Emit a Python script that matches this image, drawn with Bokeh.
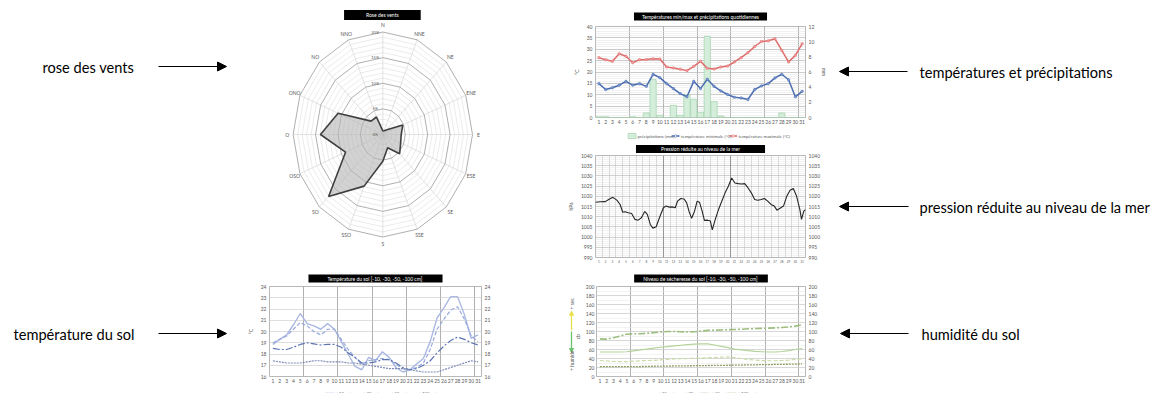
import math
from bokeh.plotting import figure
from bokeh.models import (Range1d, LinearAxis, Label, Arrow, NormalHead, FixedTicker, Spacer, Title)
from bokeh.layouts import row, column
from bokeh.embed import file_html
from bokeh.resources import INLINE
from bokeh.core.properties import value

FONT = "Lato"
GREY = "#595959"

# ---------------- data ----------------
directions = ["N", "NNE", "NE", "ENE", "E", "ESE", "SE", "SSE",
              "S", "SSO", "SO", "OSO", "O", "ONO", "NO", "NNO"]
wind_freq = [0.7, 0.8, 1.3, 4.8, 4.1, 4.3, 5.3, 2.8,
             5.2, 10.9, 17.1, 9.0, 13.9, 10.8, 3.7, 3.7]
rose_rings = [5, 10, 15, 20]
rose_ring_labels = ["5%", "10%", "15%", "20%"]

days = list(range(1, 32))
tmax = [26.3, 25.4, 24.7, 28.0, 26.9, 24.1, 25.4, 25.5, 25.8, 25.7, 22.2, 21.8, 21.2, 20.6, 22.5, 24.7,
        21.6, 21.3, 22.2, 22.6, 24.4, 26.3, 28.5, 31.2, 33.4, 33.7, 34.6, 29.5, 24.4, 27.3, 32.4]
tmin = [14.9, 12.3, 13.1, 14.2, 15.9, 14.2, 14.9, 13.7, 19.0, 17.5, 14.9, 12.7, 10.5, 9.1, 15.9, 12.7,
        16.8, 13.7, 11.7, 10.1, 8.9, 8.6, 7.9, 12.3, 13.9, 14.9, 17.4, 19.0, 16.6, 9.1, 11.5]
precip = [0.1, 0.1, 0, 0, 0, 0.1, 0, 0.6, 5.0, 0.3, 0, 1.6, 0.3, 3.0, 2.4, 0.7,
          10.7, 2.1, 0.2, 0, 0, 0, 0, 0, 0, 0, 0, 0.6, 0, 0, 0]

press_t = [0.00, 0.73, 1.45, 1.94, 2.57, 3.15, 3.63, 4.02, 4.36, 4.84, 5.33, 5.81, 6.30, 6.78, 7.26,
           7.65, 8.09, 8.47, 8.96, 9.44, 10.02, 10.41, 10.90, 11.38, 11.77, 12.11, 12.59, 13.08, 13.46,
           13.80, 14.19, 14.62, 15.01, 15.35, 15.74, 16.08, 16.56, 16.95, 17.24, 17.68, 18.16, 18.64,
           19.13, 19.61, 20.10, 20.58, 21.07, 21.55, 22.03, 22.52, 23.00, 23.49, 23.97, 24.46, 24.94,
           25.42, 25.91, 26.39, 26.78, 27.36, 27.75, 28.23, 28.72, 29.20, 29.69, 30.17, 30.41, 30.75, 31.0]
pressure = [1017.1, 1017.3, 1017.4, 1018.4, 1019.5, 1018.1, 1016.0, 1012.2, 1012.4, 1011.9, 1011.6,
            1008.7, 1008.3, 1009.5, 1012.6, 1011.1, 1006.2, 1004.4, 1005.1, 1009.5, 1014.4, 1015.2,
            1014.7, 1014.8, 1014.4, 1017.6, 1018.9, 1018.7, 1016.8, 1012.7, 1009.2, 1012.7, 1017.6,
            1017.1, 1012.7, 1008.2, 1008.3, 1007.9, 1003.5, 1008.7, 1013.5, 1017.6, 1021.7, 1024.9,
            1029.0, 1026.5, 1026.2, 1026.0, 1026.2, 1024.1, 1021.7, 1018.4, 1018.1, 1018.4, 1018.9,
            1017.6, 1016.0, 1015.2, 1013.2, 1014.4, 1015.2, 1020.0, 1023.0, 1023.8, 1020.0, 1013.5,
            1008.7, 1012.7, 1013.5]

soil_10 = [18.85, 19.3, 19.7, 20.6, 21.6, 20.7, 20.5, 20.2, 20.7, 20.2, 19.1, 18.0, 16.9, 16.6, 17.7, 17.4,
           18.2, 17.7, 16.8, 16.4, 16.6, 17.1, 17.6, 19.1, 21.2, 22.1, 23.1, 23.1, 21.5, 19.4, 19.7]
soil_30 = [19.0, 19.3, 19.6, 20.2, 20.8, 20.5, 20.0, 19.7, 20.2, 20.2, 19.3, 18.4, 17.7, 17.1, 17.4, 17.5,
           17.6, 17.5, 17.1, 16.7, 16.6, 16.8, 17.2, 18.4, 20.2, 21.1, 21.9, 22.2, 21.1, 19.6, 19.1]
soil_50 = [18.5, 18.4, 18.4, 18.6, 18.85, 19.0, 18.9, 18.8, 18.85, 18.85, 18.6, 18.1, 17.7, 17.2, 17.2, 17.3,
           17.5, 17.5, 17.2, 16.8, 16.6, 16.7, 17.0, 17.4, 18.1, 18.7, 19.2, 19.5, 19.3, 19.0, 18.8]
soil_100 = [17.4, 17.3, 17.2, 17.2, 17.2, 17.3, 17.4, 17.4, 17.3, 17.3, 17.3, 17.2, 17.2, 17.1, 17.0, 16.9,
            16.8, 16.7, 16.7, 16.7, 16.6, 16.5, 16.4, 16.4, 16.4, 16.6, 16.8, 17.0, 17.2, 17.4, 17.3]

hum_10 = [54.5, 54.5, 54.5, 54.5, 55, 57, 59, 61, 63, 65, 66.5, 68, 69.5, 71, 72, 72.5,
          72.5, 70, 67, 64, 61, 59, 57.5, 56, 55, 54.5, 54.5, 55.5, 57.5, 60, 62]
hum_30 = [35.6, 34.5, 33.5, 33, 33, 34, 35, 35.5, 36, 37, 38, 39, 39.5, 40, 40.5, 41,
          41.5, 42, 43, 43.5, 42, 40, 38, 36.5, 35.5, 35, 35, 35.5, 36.5, 38, 39]
hum_50 = [83.6, 83, 86, 90, 94, 95, 95, 96, 97.5, 99, 100, 100, 99.5, 99, 99.5, 101,
          102.5, 103, 103.5, 104, 104.5, 105, 106, 106.5, 107, 107.5, 108, 109, 110, 112, 115]
hum_100 = [21.8, 21.8, 21.8, 21.9, 22, 22, 22.2, 22.5, 22.8, 23, 23.2, 23.4, 23.6, 23.8, 24, 24.2,
           24.4, 24.6, 24.8, 25, 25.2, 25.5, 25.8, 26, 26.3, 26.5, 26.8, 27, 27.3, 27.6, 28]

depth_labels = ["[-10 cm]", "[-30 cm]", "[-50 cm]", "[-100 cm]"]
soil_styles = [dict(line_color="#aab8e2", line_width=1.4),
               dict(line_color="#97a9dc", line_width=1.2, line_dash="4 2"),
               dict(line_color="#5d74b3", line_width=1.2, line_dash="7 2 2 2"),
               dict(line_color="#7b8bb6", line_width=1.2, line_dash="2 1")]
hum_styles = [dict(line_color="#b3d39a", line_width=1.2),
              dict(line_color="#c9dca6", line_width=1.2, line_dash="4 2"),
              dict(line_color="#9cbf80", line_width=1.6, line_dash="7 2 2 2"),
              dict(line_color="#8f9e62", line_width=1.3, line_dash="2 1")]


# ---------------- helpers ----------------
def style_axis(ax, size="5px"):
    ax.major_label_text_font_size = size
    ax.major_label_text_font = FONT
    ax.major_label_text_color = GREY
    ax.axis_line_color = None
    ax.major_tick_line_color = None
    ax.minor_tick_line_color = None
    ax.major_tick_out = 0
    ax.major_tick_in = 0
    ax.minor_tick_out = 0
    ax.minor_tick_in = 0
    ax.major_label_standoff = 3
    ax.axis_label_text_font_size = "5px"
    ax.axis_label_text_font = FONT
    ax.axis_label_text_font_style = "normal"
    ax.axis_label_text_color = GREY
    ax.axis_label_standoff = 4


def chart(width, height, xr, yr, bl, br, bt, bb):
    p = figure(width=width, height=height, x_range=Range1d(*xr), y_range=Range1d(*yr),
               output_backend="svg", toolbar_location=None,
               min_border_left=bl, min_border_right=br, min_border_top=bt, min_border_bottom=bb)
    p.background_fill_color = "white"
    p.border_fill_color = "white"
    p.outline_line_color = "#a6a6a6"
    p.outline_line_width = 0.8
    for ax in p.axis:
        style_axis(ax)
    return p


def set_title(p, text, pad, standoff, offset):
    p.title = Title(text=text, align="center", text_color="white", text_font=FONT,
                    text_font_size="5px", text_font_style="normal", background_fill_color="black",
                    padding=dict(left=pad, right=pad, top=1, bottom=1), standoff=standoff,
                    offset=offset)


def day_axis(p, labels_size="5px"):
    p.xaxis.ticker = FixedTicker(ticks=days)
    p.xaxis.major_label_text_font_size = labels_size
    p.xaxis.major_label_standoff = 2
    p.xgrid.ticker = FixedTicker(ticks=[5.5, 10.5, 15.5, 20.5, 25.5, 30.5])
    p.xgrid.grid_line_color = "#8c8c8c"
    p.xgrid.grid_line_width = 0.7


def panel(width, height, x0, y0):
    """blank figure whose coordinates are the page pixels it covers"""
    p = figure(width=width, height=height, x_range=Range1d(x0, x0 + width),
               y_range=Range1d(y0 + height, y0), output_backend="svg", toolbar_location=None,
               min_border=0, x_axis_location=None, y_axis_location=None)
    p.title_location = None
    p.grid.visible = False
    p.outline_line_color = None
    return p


def legend_strip(width, height, x0, y0, ly, entries, font, key_w):
    """entries: (label, kind, style, key_left)"""
    s = panel(width, height, x0, y0)
    for lab, kind, st, kx in entries:
        if kind == "bar":
            s.quad(left=[kx], right=[kx + key_w], top=[ly - 2.5], bottom=[ly + 2.5], **st)
        else:
            s.segment(x0=[kx], y0=[ly], x1=[kx + key_w], y1=[ly], **st)
            if kind == "marker":
                s.scatter([kx + key_w / 2], [ly], size=2.5, fill_color="white",
                          line_color=st["line_color"], line_width=0.6)
        s.text([kx + key_w + 2], [ly], [lab], text_font=value(FONT), text_font_size=font,
               text_color=GREY, text_baseline="middle", text_align="left")
    return s


# ---------------- rose des vents ----------------
rose = figure(width=260, height=265, x_range=Range1d(-25.27, 22.0), y_range=Range1d(-25.56, 26.15),
              output_backend="svg", toolbar_location=None, min_border=0)
rose.axis.visible = False
rose.grid.visible = False
rose.outline_line_color = None
angles = [math.radians(22.5 * i) for i in range(16)]
minor_x, minor_y, major_x, major_y = [], [], [], []
for r in range(1, 21):
    xs = [r * math.sin(a) for a in angles] + [0.0]
    ys = [r * math.cos(a) for a in angles] + [r]
    if r % 5 == 0:
        major_x.append(xs); major_y.append(ys)
    else:
        minor_x.append(xs); minor_y.append(ys)
rose.multi_line(minor_x, minor_y, line_color="#dedede", line_width=0.6)
rose.multi_line([[0, 20 * math.sin(a)] for a in angles], [[0, 20 * math.cos(a)] for a in angles],
                line_color="#d0d0d0", line_width=0.6)
rose.multi_line(major_x, major_y, line_color="#a6a6a6", line_width=0.9)
rose.patch([f * math.sin(a) for f, a in zip(wind_freq, angles)],
           [f * math.cos(a) for f, a in zip(wind_freq, angles)],
           fill_color="#b4b4b4", fill_alpha=0.6, line_color="#3f3f3f", line_width=1.6)
rose.text([21.3 * math.sin(a) for a in angles], [21.3 * math.cos(a) for a in angles], directions,
          text_font=value(FONT), text_font_size="5px", text_color=GREY,
          text_align="center", text_baseline="middle")
rose.text([-1.7] * 5, [0] + rose_rings, ["0%"] + rose_ring_labels,
          text_font=value(FONT), text_font_size="4px", text_color=GREY,
          text_align="center", text_baseline="middle")
rose.add_layout(Label(x=-0.1, y=23.3, text="Rose des vents", text_color="white", text_font=FONT,
                      text_font_size="5px", text_align="center", text_baseline="middle",
                      background_fill_color="black",
                      padding=dict(left=22, right=22, top=2, bottom=2)))

# ---------------- soil temperature ----------------
soil = chart(260, 120, (0.5, 31.5), (16, 24), 29, 19, 21, 8)
soil.extra_y_ranges = {"r": Range1d(16, 24)}
ax_r = LinearAxis(y_range_name="r")
style_axis(ax_r)
soil.add_layout(ax_r, "right")
soil.yaxis.ticker = FixedTicker(ticks=list(range(16, 25)))
soil.yaxis[0].axis_label = "°C"
soil.ygrid.grid_line_color = "#c8c8c8"
soil.ygrid.grid_line_width = 0.6
day_axis(soil)
for ser, st in zip([soil_10, soil_30, soil_50, soil_100], soil_styles):
    soil.line(days, ser, **st)
set_title(soil, "Température du sol  [-10, -30, -50, -100 cm]", 19, 8, 4)
soil_leg = legend_strip(260, 8, 240, 385, 389,
                        [(l, "line", st, kx) for l, st, kx in
                         zip(depth_labels, soil_styles, [308, 342, 376, 410])], "4px", 12)

# ---------------- temperatures & precipitation ----------------
temp = chart(270, 130, (0.5, 31.5), (0, 40), 35, 20, 26, 13)
temp.extra_y_ranges = {"mm": Range1d(0, 12)}
ax_mm = LinearAxis(y_range_name="mm", ticker=FixedTicker(ticks=list(range(0, 13, 2))), axis_label="mm")
style_axis(ax_mm)
temp.add_layout(ax_mm, "right")
temp.yaxis[0].ticker = FixedTicker(ticks=list(range(0, 41, 5)), minor_ticks=list(range(0, 41)))
temp.yaxis[0].axis_label = "°C"
temp.ygrid.ticker = FixedTicker(ticks=list(range(0, 41, 5)), minor_ticks=list(range(0, 41)))
temp.ygrid.grid_line_color = "#b0b0b0"
temp.ygrid.grid_line_width = 0.6
temp.ygrid.minor_grid_line_color = "#e2e2e2"
temp.ygrid.minor_grid_line_width = 0.5
day_axis(temp)
bar_style = dict(fill_color="#d5eedb", line_color="#9fd3aa", line_width=0.7)
min_style = dict(line_color="#4a6db0", line_width=1.5)
max_style = dict(line_color="#e06b6b", line_width=1.5)
temp.vbar(x=days, top=precip, width=0.92, y_range_name="mm", **bar_style)
temp.line(days, tmin, **min_style)
temp.scatter(days, tmin, size=2.5, fill_color="#7f9bd0", line_color="#4a6db0", line_width=0.5)
temp.line(days, tmax, **max_style)
temp.scatter(days, tmax, size=2.5, fill_color="#f0a0a0", line_color="#e06b6b", line_width=0.5)
set_title(temp, "Températures min/max et précipitations quotidiennes", 8, 12, 0)
temp_leg = legend_strip(270, 10, 560, 130, 133.5,
                        [("précipitations (mm)", "bar", bar_style, 602),
                         ("température minimale (°C)", "marker", min_style, 658),
                         ("température maximale (°C)", "marker", max_style, 732)], "4.4px", 10)

# ---------------- pressure ----------------
pres = chart(270, 125, (0, 31), (990, 1040), 33, 23, 15, 7)
pres.extra_y_ranges = {"r": Range1d(990, 1040)}
ax_p = LinearAxis(y_range_name="r", ticker=FixedTicker(ticks=list(range(990, 1041, 5))))
style_axis(ax_p)
pres.add_layout(ax_p, "right")
pres.yaxis[0].ticker = FixedTicker(ticks=list(range(990, 1041, 5)), minor_ticks=list(range(990, 1041)))
pres.yaxis[0].axis_label = "hPa"
pres.ygrid.ticker = FixedTicker(ticks=list(range(990, 1041, 5)), minor_ticks=list(range(990, 1041)))
pres.ygrid.grid_line_color = "#b8b8b8"
pres.ygrid.grid_line_width = 0.6
pres.ygrid.minor_grid_line_color = "#e4e4e4"
pres.ygrid.minor_grid_line_width = 0.5
pres.xaxis.ticker = FixedTicker(ticks=[d - 0.5 for d in days])
pres.xaxis.major_label_overrides = {d - 0.5: str(d) for d in days}
pres.xaxis.major_label_text_font_size = "3px"
pres.xaxis.major_label_standoff = 2
pres.xgrid.ticker = FixedTicker(ticks=list(range(0, 32)))
pres.xgrid.grid_line_color = "#bdbdbd"
pres.xgrid.grid_line_width = 0.6
pres.vspan(x=[10, 20], line_color="#7a7a7a", line_width=0.7)
pres.line(press_t, pressure, line_color="#262626", line_width=1.1)
set_title(pres, "Pression réduite au niveau de la mer", 25, 5, 2)

# ---------------- soil humidity ----------------
hum = chart(248, 120, (0.5, 31.5), (0, 200), 11, 25, 21, 8)
hum.extra_y_ranges = {"r": Range1d(0, 200)}
ax_h = LinearAxis(y_range_name="r", ticker=FixedTicker(ticks=list(range(0, 201, 20))))
style_axis(ax_h)
hum.add_layout(ax_h, "right")
hum.yaxis[0].ticker = FixedTicker(ticks=list(range(0, 201, 20)), minor_ticks=list(range(0, 201, 10)))
hum.yaxis[0].major_label_standoff = 2
hum.ygrid.ticker = FixedTicker(ticks=list(range(0, 201, 20)), minor_ticks=list(range(0, 201, 10)))
hum.ygrid.grid_line_color = "#c4c4c4"
hum.ygrid.grid_line_width = 0.6
hum.ygrid.minor_grid_line_color = "#e6e6e6"
hum.ygrid.minor_grid_line_width = 0.5
day_axis(hum)
for ser, st in zip([hum_10, hum_30, hum_50, hum_100], hum_styles):
    hum.line(days, ser, **st)
set_title(hum, "Niveau de sécheresse du sol  [-10, -30, -50, -100 cm]", 9, 8, 5)
hum_leg = legend_strip(270, 8, 560, 385, 389,
                       [(l, "line", st, kx) for l, st, kx in
                        zip(depth_labels, hum_styles, [628, 662, 696, 730])], "4px", 12)

# dryness scale beside the humidity chart (page pixel coordinates)
deco = panel(22, 120, 560, 265)
deco.add_layout(Arrow(x_start=571, y_start=323, x_end=571, y_end=298, line_color="#e8e04a",
                      line_width=1.3, end=NormalHead(size=4, fill_color="#e8e04a", line_color="#e8e04a")))
deco.add_layout(Arrow(x_start=571, y_start=325, x_end=571, y_end=353, line_color="#6cc36c",
                      line_width=1.3, end=NormalHead(size=4, fill_color="#6cc36c", line_color="#6cc36c")))
for txt, xx, yy in [("+ sec", 571, 288), ("cb", 577, 332), ("+ humide", 571, 364)]:
    deco.add_layout(Label(x=xx, y=yy, text=txt, angle=math.pi / 2, text_font=FONT,
                          text_font_size="5px", text_color=GREY, text_align="center",
                          text_baseline="middle"))


# ---------------- side labels ----------------
def annotate(p, text, tx, ty, ax0, ax1, ay):
    p.add_layout(Label(x=tx, y=ty, text=text, text_font=FONT, text_font_size="14.6px",
                       text_color="black", text_baseline="middle"))
    p.add_layout(Arrow(x_start=ax0, y_start=ay, x_end=ax1, y_end=ay, line_color="black", line_width=1,
                       end=NormalHead(size=9, fill_color="black", line_color="black")))


left = panel(240, 393, 0, 0)
annotate(left, "rose des vents", 42, 67, 158, 226, 66)
annotate(left, "température du sol", 13, 334, 158, 226, 333)

right = panel(322, 393, 830, 0)
annotate(right, "températures et précipitations", 919, 72, 907, 839, 71)
annotate(right, "pression réduite au niveau de la mer", 919, 207, 908, 839, 206)
annotate(right, "humidité du sol", 921, 334, 908, 840, 333)

left_col = column(rose, soil, soil_leg)
right_col = column(temp, temp_leg, pres, row(deco, hum), hum_leg)
layout = row(left, left_col, Spacer(width=60, height=393), right_col, right)

open("out.html", "w").write(file_html(layout, INLINE))
